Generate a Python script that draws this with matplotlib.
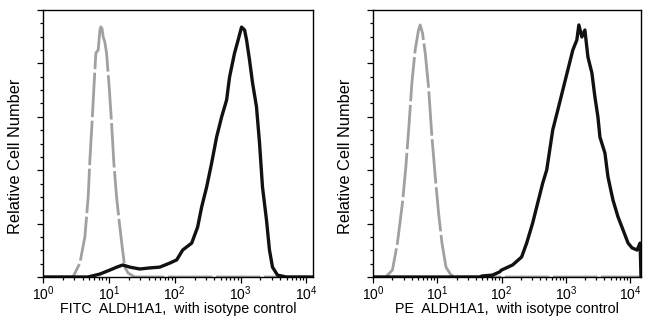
import numpy as np
import matplotlib

matplotlib.use("Agg")
from matplotlib import pyplot as plt
from matplotlib.ticker import LogLocator, MultipleLocator, NullFormatter

plt.rcParams['font.family'] = ['Liberation Sans', 'DejaVu Sans']
plt.rcParams['mathtext.default'] = 'regular'

# log10 intensity / relative count
fitc_iso_log = [0.0, 0.455, 0.56, 0.636, 0.686, 0.712, 0.747, 0.777, 0.803, 0.838,
                0.864, 0.889, 0.914, 0.939, 0.965, 1.005, 1.041, 1.076, 1.117,
                1.167, 1.208, 1.242, 1.292, 1.394, 4.1]
fitc_iso_cnt = [0.0, 0.0, 0.052, 0.15, 0.30, 0.438, 0.588, 0.727, 0.839, 0.85,
                0.925, 0.944, 0.899, 0.88, 0.839, 0.712, 0.577, 0.427, 0.30,
                0.187, 0.101, 0.037, 0.015, 0.0, 0.0]

fitc_log = [0.0, 0.682, 0.864, 1.015, 1.121, 1.212, 1.318, 1.47, 1.621, 1.773,
            1.924, 2.03, 2.121, 2.258, 2.348, 2.409, 2.485, 2.561, 2.636, 2.712,
            2.788, 2.833, 2.909, 2.955, 3.015, 3.061, 3.091, 3.136, 3.182, 3.242,
            3.288, 3.333, 3.394, 3.439, 3.485, 3.561, 3.697, 4.1]
fitc_cnt = [0.0, 0.0, 0.011, 0.026, 0.037, 0.045, 0.037, 0.03, 0.034, 0.037,
            0.052, 0.064, 0.101, 0.127, 0.187, 0.262, 0.337, 0.427, 0.524, 0.599,
            0.663, 0.749, 0.839, 0.88, 0.936, 0.925, 0.888, 0.813, 0.727, 0.637,
            0.502, 0.337, 0.213, 0.101, 0.037, 0.007, 0.0, 0.0]

pe_iso_log = [0.0, 0.198, 0.302, 0.38, 0.458, 0.511, 0.5625, 0.605, 0.656, 0.708,
              0.734, 0.77, 0.8125, 0.864, 0.917, 0.969, 1.02, 1.073, 1.136,
              1.214, 1.317, 4.17]
pe_iso_cnt = [0.0, 0.0, 0.026, 0.127, 0.277, 0.412, 0.577, 0.727, 0.85, 0.925,
              0.944, 0.914, 0.839, 0.712, 0.524, 0.375, 0.24, 0.127, 0.037,
              0.007, 0.0, 0.0]

pe_log = [0.0, 1.656, 1.703, 1.859, 1.969, 2.0, 2.172, 2.3125, 2.391, 2.484,
          2.5625, 2.641, 2.703, 2.75, 2.797, 2.875, 2.953, 3.031, 3.109, 3.172,
          3.203, 3.25, 3.297, 3.344, 3.406, 3.453, 3.5, 3.531, 3.609, 3.656,
          3.734, 3.8125, 3.891, 3.969, 4.031, 4.109, 4.156, 4.17]
pe_cnt = [0.0, 0.0, 0.004, 0.007, 0.019, 0.026, 0.045, 0.075, 0.127, 0.202,
          0.277, 0.352, 0.401, 0.476, 0.551, 0.625, 0.70, 0.775, 0.85, 0.888,
          0.944, 0.899, 0.925, 0.824, 0.764, 0.674, 0.599, 0.524, 0.464, 0.375,
          0.288, 0.225, 0.176, 0.127, 0.109, 0.101, 0.127, 0.0]

panels = [
    ("FITC  ALDH1A1,  with isotype control", fitc_iso_log, fitc_iso_cnt,
     fitc_log, fitc_cnt, 4.1),
    ("PE  ALDH1A1,  with isotype control", pe_iso_log, pe_iso_cnt,
     pe_log, pe_cnt, 4.17),
]

fig = plt.figure(figsize=(6.5, 3.29), dpi=100)
boxes = [[43 / 650, 52 / 329, 270 / 650, 267 / 329],
         [373 / 650, 52 / 329, 268 / 650, 267 / 329]]

for box, (label, iso_x, iso_y, x, y, xmax) in zip(boxes, panels):
    ax = fig.add_axes(box)
    ax.plot(10 ** np.array(iso_x), iso_y, color='#a0a0a0', lw=2.0,
            dashes=(16, 1.3), solid_capstyle='butt')
    ax.plot(10 ** np.array(x), y, color='#111111', lw=2.4)
    ax.set_xscale('log')
    ax.set_xlim(1, 10 ** xmax)
    ax.set_ylim(0, 1)
    ax.xaxis.set_major_locator(LogLocator(base=10, numticks=10))
    ax.xaxis.set_minor_locator(LogLocator(base=10, subs=np.arange(2, 10), numticks=10))
    ax.xaxis.set_minor_formatter(NullFormatter())
    ax.yaxis.set_major_locator(MultipleLocator(0.2))
    ax.yaxis.set_minor_locator(MultipleLocator(0.05))
    ax.set_yticklabels([])
    ax.tick_params(which='both', direction='out', top=False, right=False,
                   width=0.9, color='black')
    ax.tick_params(which='major', length=4.5, pad=1, labelsize=10)
    ax.tick_params(which='minor', length=2.2)
    for s in ax.spines.values():
        s.set_linewidth(1.0)
    ax.set_xlabel(label, fontsize=10.3, labelpad=-1)
    ax.set_ylabel("Relative Cell Number", fontsize=11.8)
    ax.yaxis.set_label_coords(-0.074, 0.453)

plt.savefig("out.png", dpi=100)
plt.close()
